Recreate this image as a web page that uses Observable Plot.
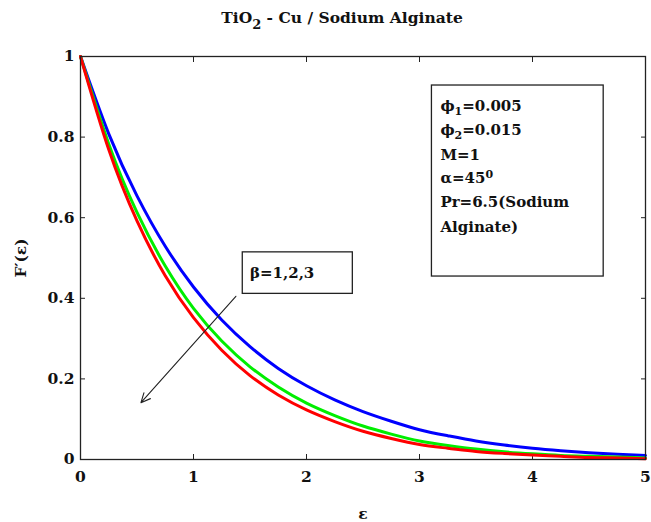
<!DOCTYPE html>
<html><head><meta charset="utf-8">
<script src="https://cdn.jsdelivr.net/npm/d3@7"></script>
<script src="https://cdn.jsdelivr.net/npm/@observablehq/plot@0.6"></script>
<style>
body{margin:0;background:#fff;width:651px;height:522px;overflow:hidden;font-family:"DejaVu Serif",serif;}
#title{position:absolute;left:0;top:0;width:684px;height:40px;text-align:center;font-weight:bold;font-size:15.5px;line-height:36px;color:#111;}
#title sub{font-size:13px;vertical-align:-6px;line-height:0;}
#chart{position:absolute;left:0;top:40px;}
</style></head><body>
<div id="title">TiO<sub>2</sub> - Cu / Sodium Alginate</div>
<div id="chart"></div>
<script>
// eta values
const eta = [0,0.25,0.5,0.75,1,1.25,1.5,1.75,2,2.25,2.5,2.75,3,3.25,3.5,3.75,4,4.25,4.5,4.75,5];
// F'(eta) for beta = 1 (blue), 2 (green), 3 (red)
const beta1 = [1,0.808,0.654,0.529,0.428,0.346,0.280,0.226,0.183,0.148,0.119,0.095,0.074,0.059,0.046,0.036,0.028,0.022,0.017,0.013,0.010];
const beta2 = [1,0.783,0.613,0.480,0.375,0.294,0.230,0.180,0.140,0.109,0.083,0.063,0.046,0.035,0.026,0.019,0.014,0.010,0.008,0.006,0.004];
const beta3 = [1,0.769,0.592,0.456,0.352,0.271,0.208,0.160,0.123,0.094,0.070,0.052,0.037,0.028,0.020,0.015,0.011,0.008,0.005,0.004,0.002];
const seriesNames = ["β=1","β=2","β=3"];
const seriesColors = ["#0000ff","#00ee00","#ff0000"];
const xTicks = [0,1,2,3,4,5];
const yTicks = [0,0.2,0.4,0.6,0.8,1];
const legendLines = ["ϕ_1=0.005","ϕ_2=0.015","M=1","α=45^0","Pr=6.5(Sodium","Alginate)"];
const legendLineY = [0.876,0.816,0.756,0.698,0.638,0.576];
const legendBox = {x1:3.11,x2:4.63,y1:0.454,y2:0.928};
const betaBox = {x1:1.436,x2:2.41,y1:0.411,y2:0.514};
const betaLabel = {x:1.5,y:0.463,t:"β=1,2,3"};
const arrowSpec = {x1:1.375,y1:0.405,x2:0.535,y2:0.141};

const rows = [];
[beta1,beta2,beta3].forEach((s,i)=>s.forEach((v,j)=>rows.push({eta:eta[j],f:v,series:seriesNames[i]})));
const legendRows = legendLines.map((t,i)=>({t,x:legendBox.x1+0.075,y:legendLineY[i]}));

const plot = Plot.plot({
  width:651, height:482,
  marginTop:16, marginBottom:63, marginLeft:80, marginRight:6,
  style:{fontFamily:"DejaVu Serif, serif",fontWeight:"bold",fontSize:"15px",background:"white",color:"#111"},
  x:{domain:[0,5]},
  y:{domain:[0,1]},
  color:{domain:seriesNames,range:seriesColors},
  marks:[
    Plot.axisX({ticks:xTicks,tickSize:0,tickPadding:11,tickFormat:d=>String(d),label:"ε",labelAnchor:"center",labelOffset:59,labelArrow:"none",fontSize:15.5}),
    Plot.axisX({ticks:xTicks,tickSize:-5,text:null,label:null,stroke:"#222"}),
    Plot.axisX({ticks:xTicks,anchor:"top",tickSize:-5,text:null,label:null,stroke:"#222"}),
    Plot.axisY({ticks:yTicks,tickSize:0,tickPadding:6,tickFormat:d=>String(d),label:"F′(ε)",labelAnchor:"center",labelOffset:66,labelArrow:"none",fontSize:15.5}),
    Plot.axisY({ticks:yTicks,tickSize:-5,text:null,label:null,stroke:"#222"}),
    Plot.axisY({ticks:yTicks,anchor:"right",tickSize:-5,text:null,label:null,stroke:"#222"}),
    Plot.line(rows,{x:"eta",y:"f",stroke:"series",curve:"natural",strokeWidth:3}),
    Plot.rect([legendBox],{x1:"x1",x2:"x2",y1:"y1",y2:"y2",fill:"white",stroke:"#222",strokeWidth:1.3}),
    Plot.text(legendRows,{x:"x",y:"y",text:"t",textAnchor:"start",fontSize:15,fontWeight:"bold",fill:"#111"}),
    Plot.rect([betaBox],{x1:"x1",x2:"x2",y1:"y1",y2:"y2",fill:"white",stroke:"#222",strokeWidth:1.3}),
    Plot.text([betaLabel],{x:"x",y:"y",text:"t",textAnchor:"start",fontSize:15,fontWeight:"bold",fill:"#111"}),
    Plot.arrow([arrowSpec],{x1:"x1",y1:"y1",x2:"x2",y2:"y2",stroke:"#222",strokeWidth:1.1,headLength:14,headAngle:50}),
    Plot.frame({stroke:"#222",strokeWidth:1.3})
  ]
});
document.getElementById("chart").appendChild(plot);

// subscripts / superscripts in legend text
d3.select(plot).selectAll("text").each(function(){
  const el = this;
  const s = el.textContent;
  if (!/[_^]/.test(s) || el.children.length) return;
  const parts = s.split(/([_^]\w)/).filter(p=>p.length);
  el.textContent = "";
  let shift = 0;
  parts.forEach(p=>{
    const ts = d3.select(el).append("tspan");
    if (p[0]==="_" || p[0]==="^") {
      const target = p[0]==="_" ? 0.35 : -0.45;
      ts.attr("dy",(target-shift)+"em").attr("font-size","11px").text(p.slice(1));
      shift = target;
    } else {
      if (shift!==0) { ts.attr("dy",(-shift*11/15)+"em"); shift=0; }
      ts.text(p);
    }
  });
});
</script>
</body></html>
